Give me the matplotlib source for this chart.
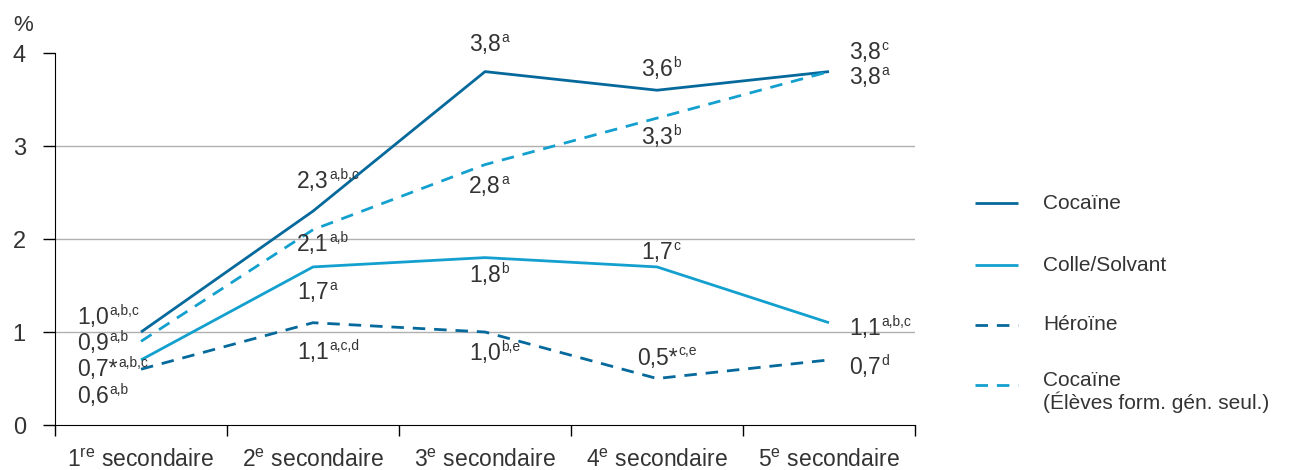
import matplotlib.pyplot as plt
from matplotlib.lines import Line2D

# Données
niveaux = ["1$^{re}$ secondaire", "2$^{e}$ secondaire", "3$^{e}$ secondaire",
           "4$^{e}$ secondaire", "5$^{e}$ secondaire"]
cocaine = [1.0, 2.3, 3.8, 3.6, 3.8]
colle = [0.7, 1.7, 1.8, 1.7, 1.1]
heroine = [0.6, 1.1, 1.0, 0.5, 0.7]
cocaine_gen = [0.9, 2.1, 2.8, 3.3, 3.8]

sup_cocaine = ["a,b,c", "a,b,c", "a", "b", "c"]
sup_colle = ["a,b,c", "a", "b", "c", "a,b,c"]
sup_heroine = ["a,b", "a,c,d", "b,e", "c,e", "d"]
sup_cocaine_gen = ["a,b", "a,b", "a", "b", "a"]

star_colle = ["*", "", "", "", ""]
star_heroine = ["", "", "", "*", ""]
star_none = ["", "", "", "", ""]

# Position verticale des étiquettes (mise en page)
pos_cocaine = [1.16, 2.62, 4.09, 3.82, 4.01]
pos_colle = [0.60, 1.42, 1.61, 1.85, 1.04]
pos_heroine = [0.31, 0.78, 0.77, 0.72, 0.62]
pos_cocaine_gen = [0.88, 1.94, 2.56, 3.09, 3.74]

FONCE = "#05699c"
CLAIR = "#13a0cf"
TEXTE = "#333333"
plt.rcParams["font.family"] = ["Liberation Sans", "DejaVu Sans"]
plt.rcParams["mathtext.default"] = "regular"

series = [
    ("Cocaïne", cocaine, sup_cocaine, star_none, pos_cocaine, FONCE, "-"),
    ("Colle/Solvant", colle, sup_colle, star_colle, pos_colle, CLAIR, "-"),
    ("Héroïne", heroine, sup_heroine, star_heroine, pos_heroine, FONCE, "--"),
    ("Cocaïne\n(Élèves form. gén. seul.)", cocaine_gen, sup_cocaine_gen,
     star_none, pos_cocaine_gen, CLAIR, "--"),
]

fig = plt.figure(figsize=(13.04, 4.70), dpi=100)
ax = fig.add_axes([0.0422, 0.0957, 0.6595, 0.7915])

for y in [1, 2, 3]:
    ax.axhline(y, color="#b0b0b0", lw=1, zorder=0)

x = list(range(len(niveaux)))


def etiquette(xp, yp, val, star, sup, ha):
    t = ax.text(xp, yp, f"{val:.1f}".replace(".", ",") + star, ha=ha,
                va="center", fontsize=16.5, color=TEXTE, clip_on=False)
    ax.annotate(sup, xy=(1, 1), xycoords=t, xytext=(0.5, 1.5),
                textcoords="offset points", ha="left", va="top",
                fontsize=10, color=TEXTE, annotation_clip=False)


for nom, vals, sups, stars, pos, col, ls in series:
    line, = ax.plot(x, vals, color=col, lw=2, ls=ls, solid_capstyle="butt")
    if ls == "--":
        line.set_dashes((4.5, 3.2))
    for i in x:
        if i == 0:
            etiquette(-0.37, pos[i], vals[i], stars[i], sups[i], "left")
        elif i == len(x) - 1:
            etiquette(i + 0.116, pos[i], vals[i], stars[i], sups[i], "left")
        else:
            etiquette(i, pos[i], vals[i], stars[i], sups[i], "center")

ax.set_xlim(-0.5, 4.5)
ax.set_ylim(0, 4)
ax.set_yticks([0, 1, 2, 3, 4])
ax.tick_params(axis="y", length=9, width=1, pad=12, labelsize=17,
               labelcolor=TEXTE)
ax.set_xticks([i - 0.5 for i in range(6)])
ax.set_xticklabels([])
ax.set_xticks(x, minor=True)
ax.set_xticklabels(niveaux, minor=True)
ax.tick_params(axis="x", which="major", length=8, width=1)
ax.tick_params(axis="x", which="minor", length=0, pad=17, labelsize=16.5,
               labelcolor=TEXTE)
for s in ["top", "right"]:
    ax.spines[s].set_visible(False)
ax.text(-0.049, 1.075, "%", transform=ax.transAxes, fontsize=16, color=TEXTE,
        ha="left", va="center")

# Légende
ly = [0.568, 0.436, 0.309, 0.181]
for (nom, vals, sups, stars, pos, col, ls), yy in zip(series, ly):
    h = Line2D([0.748, 0.781], [yy, yy], transform=fig.transFigure,
               color=col, lw=2, ls=ls, solid_capstyle="butt")
    if ls == "--":
        h.set_dashes((4.5, 3.2))
    fig.add_artist(h)
    if "\n" in nom:
        fig.text(0.80, yy + 0.03, nom, fontsize=15, color=TEXTE, ha="left",
                 va="top", linespacing=1.1)
    else:
        fig.text(0.80, yy, nom, fontsize=15, color=TEXTE, ha="left",
                 va="center")

fig.savefig("out.png", dpi=100)
